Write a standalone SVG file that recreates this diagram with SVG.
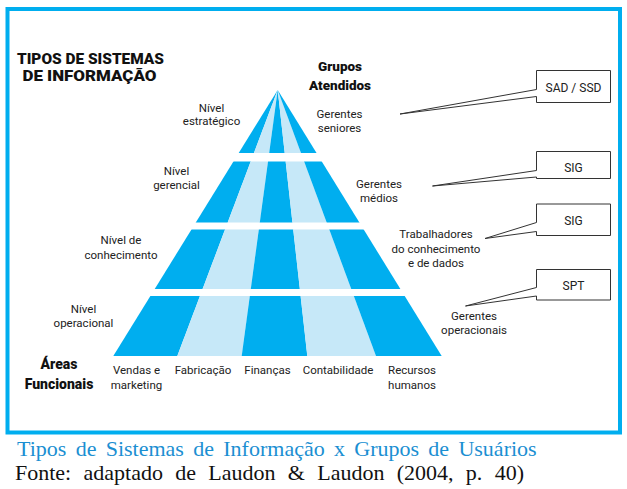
<svg xmlns="http://www.w3.org/2000/svg" width="627" height="489" viewBox="0 0 627 489">
<style>
.lbl{font-family:Roboto,"Liberation Sans",sans-serif;font-size:11.5px;fill:#222;text-anchor:middle}
.hd{font-family:Roboto,"Liberation Sans",sans-serif;font-weight:900;fill:#111;text-anchor:middle}
.box{fill:#fff;stroke:#333;stroke-width:1}
.bt{font-family:Roboto,"Liberation Sans",sans-serif;font-size:12px;fill:#222;text-anchor:middle}
.dk{fill:#00AEEF}
.lt{fill:#C6E8F8}
.cap{font-family:"Liberation Serif","Times New Roman",serif;font-size:22px}
</style>
<defs>
<clipPath id="tiers">
<rect x="100" y="90" width="360" height="63"/>
<rect x="100" y="161.5" width="360" height="61"/>
<rect x="100" y="229.5" width="360" height="59.5"/>
<rect x="100" y="296" width="360" height="60"/>
</clipPath>
</defs>
<rect x="0" y="0" width="627" height="489" fill="#fff"/>
<rect id="frame" x="7.5" y="9" width="612.5" height="423.5" fill="none" stroke="#00AEEF" stroke-width="4"/>

<g id="pyramid" clip-path="url(#tiers)">
<polygon class="dk" points="277.7,90 113.3,356 177.3,356"/>
<polygon class="lt" points="277.7,90 177.3,356 241.7,356"/>
<polygon class="dk" points="277.7,90 241.7,356 307.3,356"/>
<polygon class="lt" points="277.7,90 307.3,356 376,356"/>
<polygon class="dk" points="277.7,90 376,356 441.7,356"/>
</g>

<g id="title">
<text class="hd" font-size="15" x="90.5" y="63.5" textLength="147" lengthAdjust="spacingAndGlyphs">TIPOS DE SISTEMAS</text>
<text class="hd" font-size="15" x="89.5" y="81" textLength="134" lengthAdjust="spacingAndGlyphs">DE INFORMAÇÃO</text>
</g>
<g id="grupos">
<text class="hd" font-size="13.5" x="340" y="71">Grupos</text>
<text class="hd" font-size="13.5" x="340" y="89.5">Atendidos</text>
</g>
<g id="areas">
<text class="hd" font-size="14" x="59" y="369">Áreas</text>
<text class="hd" font-size="14" x="59" y="388.5">Funcionais</text>
</g>

<g id="niveis">
<text class="lbl" x="211.5" y="111.5">Nível</text>
<text class="lbl" x="211.5" y="125">estratégico</text>
<text class="lbl" x="176.5" y="174.5">Nível</text>
<text class="lbl" x="176.5" y="188.5">gerencial</text>
<text class="lbl" x="121" y="243.5">Nível de</text>
<text class="lbl" x="121" y="258.5">conhecimento</text>
<text class="lbl" x="83.5" y="313">Nível</text>
<text class="lbl" x="83.5" y="327">operacional</text>
</g>

<g id="grupos-labels">
<text class="lbl" x="339.5" y="117.5">Gerentes</text>
<text class="lbl" x="339.5" y="131.5">seniores</text>
<text class="lbl" x="379" y="187.5">Gerentes</text>
<text class="lbl" x="379" y="201.5">médios</text>
<text class="lbl" x="436" y="237.5">Trabalhadores</text>
<text class="lbl" x="436" y="252.5">do conhecimento</text>
<text class="lbl" x="436" y="266.5">e de dados</text>
<text class="lbl" x="474" y="319.5">Gerentes</text>
<text class="lbl" x="474" y="333.5">operacionais</text>
</g>

<g id="areas-labels">
<text class="lbl" x="136.5" y="374">Vendas e</text>
<text class="lbl" x="136.5" y="388.5">marketing</text>
<text class="lbl" x="203" y="374">Fabricação</text>
<text class="lbl" x="267.5" y="374">Finanças</text>
<text class="lbl" x="338" y="374">Contabilidade</text>
<text class="lbl" x="412" y="374">Recursos</text>
<text class="lbl" x="412" y="388.5">humanos</text>
</g>

<g id="callouts">
<g id="c-sad">
<path class="box" d="M536.5,70.5 H610.5 V102.5 H536.5 V96.5 L400,114 L536.5,89.5 Z"/>
<text class="bt" x="573.5" y="92">SAD / SSD</text>
</g>
<g id="c-sig1">
<path class="box" d="M536.5,151.5 H610.5 V178.5 H536.5 V177 L432.5,186 L536.5,170.5 Z"/>
<text class="bt" x="573.5" y="171.5">SIG</text>
</g>
<g id="c-sig2">
<path class="box" d="M536.5,204 H610.5 V235.5 H536.5 V231.5 L485,238.5 L536.5,222.5 Z"/>
<text class="bt" x="573.5" y="225">SIG</text>
</g>
<g id="c-spt">
<path class="box" d="M536.5,269.5 H610.5 V300 H536.5 V296 L465.5,306 L536.5,287.5 Z"/>
<text class="bt" x="573.5" y="289.5">SPT</text>
</g>
</g>

<g id="caption">
<text class="cap" x="17" y="456" fill="#1B8FD2" word-spacing="3.8">Tipos de Sistemas de Informação x Grupos de Usuários</text>
<text class="cap" x="15" y="480" fill="#111" word-spacing="6.8">Fonte: adaptado de Laudon &amp; Laudon (2004, p. 40)</text>
</g>
</svg>
